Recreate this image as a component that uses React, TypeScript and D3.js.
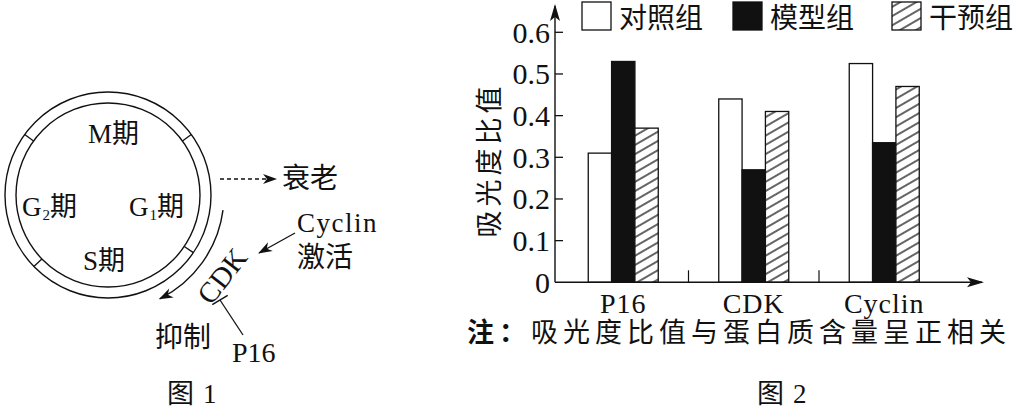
import React from 'react';
import * as d3 from 'd3';

// figure 2 data
const categories = ['P16', 'CDK', 'Cyclin'];
const seriesNames = ['对照组', '模型组', '干预组'];
const controlValues = [0.31, 0.44, 0.525];
const modelValues = [0.53, 0.27, 0.335];
const interventionValues = [0.37, 0.41, 0.47];
const yTicks = [0, 0.1, 0.2, 0.3, 0.4, 0.5, 0.6];

// figure 1 labels
const phaseLabels = [
  { main: 'M', sub: '', x: 88, y: 143 },
  { main: 'G', sub: '2', x: 22, y: 216 },
  { main: 'G', sub: '1', x: 129, y: 216 },
  { main: 'S', sub: '', x: 83, y: 270 },
];
const dividerAngles = [-36, 34, 136, 216];

const SERIF = "'Liberation Serif', 'Noto Sans CJK SC', serif";
const CJK = "'Noto Sans CJK SC', sans-serif";

const W = 1024;
const H = 411;

const CycleDiagram: React.FC = () => {
  const cx = 108;
  const cy = 195;
  const rIn = 92;
  const rOut = 103;
  const rad = (a: number) => (a * Math.PI) / 180;

  const arc = d3.path();
  arc.arc(cx, cy, 116, rad(7.5), rad(63.5));

  // inhibition "T" at the CDK arc
  const tc = { x: 220, y: 300 };
  const barDir = [Math.cos(rad(-31)), Math.sin(rad(-31))];

  return (
    <g>
      <circle cx={cx} cy={cy} r={rOut} fill="none" stroke="#111" strokeWidth={1.4} />
      <circle cx={cx} cy={cy} r={rIn} fill="none" stroke="#111" strokeWidth={1.4} />
      {dividerAngles.map((a) => (
        <line
          key={a}
          x1={cx + rIn * Math.cos(rad(a))}
          y1={cy + rIn * Math.sin(rad(a))}
          x2={cx + rOut * Math.cos(rad(a))}
          y2={cy + rOut * Math.sin(rad(a))}
          stroke="#111"
          strokeWidth={1.3}
        />
      ))}
      {phaseLabels.map((p, i) => (
        <text key={i} x={p.x} y={p.y} fontFamily={SERIF} fontSize={27} fill="#111">
          {p.main}
          {p.sub && (
            <tspan fontSize={15} dy={4} dx={1}>
              {p.sub}
            </tspan>
          )}
          <tspan fontFamily={CJK} dy={p.sub ? -4 : 0}>期</tspan>
        </text>
      ))}

      {/* senescence dashed arrow */}
      <line x1={220} y1={179} x2={276} y2={179} stroke="#111" strokeWidth={1.3}
        strokeDasharray="4 3" markerEnd="url(#arrowHead)" />
      <text x={282} y={188} fontFamily={CJK} fontSize={28} fill="#111">衰老</text>

      {/* CDK arc */}
      <path d={arc.toString()} fill="none" stroke="#111" strokeWidth={1.4} markerEnd="url(#arrowHead)" />
      <text
        transform="translate(222,276) rotate(-52)"
        textAnchor="middle"
        fontFamily={SERIF}
        fontSize={29}
        fill="#111"
        dominantBaseline="central"
      >
        CDK
      </text>

      {/* Cyclin activation */}
      <line x1={295} y1={233} x2={259} y2={253} stroke="#111" strokeWidth={1.3} markerEnd="url(#arrowHead)" />
      <text x={297} y={232} fontFamily={SERIF} fontSize={27} letterSpacing={1.5} fill="#111">Cyclin</text>
      <text x={297} y={267} fontFamily={CJK} fontSize={28} fill="#111">激活</text>

      {/* P16 inhibition */}
      <line
        x1={tc.x - 9 * barDir[0]}
        y1={tc.y - 9 * barDir[1]}
        x2={tc.x + 9 * barDir[0]}
        y2={tc.y + 9 * barDir[1]}
        stroke="#111"
        strokeWidth={1.4}
      />
      <line x1={tc.x} y1={tc.y} x2={243} y2={335} stroke="#111" strokeWidth={1.3} />
      <text x={155} y={347} fontFamily={CJK} fontSize={28} fill="#111">抑制</text>
      <text x={232} y={362} fontFamily={SERIF} fontSize={28} fill="#111">P16</text>

      <text x={167} y={403} fontFamily={CJK} fontSize={27} fill="#111">
        图<tspan fontFamily={SERIF} dx={9}>1</tspan>
      </text>
    </g>
  );
};

const BarChart: React.FC = () => {
  const y0 = 282.3;
  const y = d3.scaleLinear().domain([0, 0.6]).range([y0, 32.3]);
  const x = d3.scaleBand<string>().domain(categories).range([558, 949.5]).padding(0);
  const bw = x.bandwidth();
  const xs = d3.scaleBand<string>().domain(seriesNames).range([bw / 2 - 35, bw / 2 + 35]).padding(0);
  const axisX = 555;

  const seriesValues = [controlValues, modelValues, interventionValues];
  const fills = ['#fff', '#111', 'url(#hatch)'];

  const legendX = [582, 733, 892];

  return (
    <g>
      {/* bars */}
      {categories.map((c, ci) => (
        <g key={c} transform={`translate(${x(c)},0)`}>
          {seriesNames.map((s, si) => (
            <rect
              key={s}
              x={xs(s)}
              y={y(seriesValues[si][ci])}
              width={xs.bandwidth()}
              height={y0 - y(seriesValues[si][ci])}
              fill={fills[si]}
              stroke="#111"
              strokeWidth={1.3}
            />
          ))}
        </g>
      ))}

      {/* y axis */}
      <line x1={axisX} y1={y0} x2={axisX} y2={6} stroke="#111" strokeWidth={1.4} markerEnd="url(#axisHead)" />
      {yTicks.map((t) => (
        <g key={t}>
          {t > 0 && <line x1={axisX} x2={axisX + 8} y1={y(t)} y2={y(t)} stroke="#111" strokeWidth={1.3} />}
          <text
            x={550}
            y={y(t)}
            textAnchor="end"
            dominantBaseline="central"
            fontFamily={SERIF}
            fontSize={30}
            fill="#111"
          >
            {t === 0 ? '0' : t.toFixed(1)}
          </text>
        </g>
      ))}
      <text
        transform="translate(487,160) rotate(-90)"
        textAnchor="middle"
        dominantBaseline="central"
        fontFamily={CJK}
        fontSize={27}
        letterSpacing={4}
        fill="#111"
      >
        吸光度比值
      </text>

      {/* x axis */}
      <line x1={axisX} y1={y0} x2={982} y2={y0} stroke="#111" strokeWidth={1.4} markerEnd="url(#axisHead)" />
      {categories.slice(1).map((c) => (
        <line key={c} x1={x(c)} x2={x(c)} y1={y0} y2={y0 - 12} stroke="#111" strokeWidth={1.2} />
      ))}
      {categories.map((c) => (
        <text
          key={c}
          x={(x(c) as number) + bw / 2}
          y={313}
          textAnchor="middle"
          fontFamily={SERIF}
          fontSize={28}
          letterSpacing={1}
          fill="#111"
        >
          {c}
        </text>
      ))}

      {/* legend */}
      {seriesNames.map((s, i) => (
        <g key={s}>
          <rect x={legendX[i]} y={2} width={29} height={28} fill={fills[i]} stroke="#111" strokeWidth={1.3} />
          <text x={legendX[i] + 37} y={28} fontFamily={CJK} fontSize={28} fill="#111">{s}</text>
        </g>
      ))}

      {/* note and caption */}
      <text x={467} y={342} fontFamily={CJK} fontSize={27} letterSpacing={5} fill="#111">
        <tspan fontWeight="bold">注：</tspan>吸光度比值与蛋白质含量呈正相关
      </text>
      <text x={757} y={403} fontFamily={CJK} fontSize={27} fill="#111">
        图<tspan fontFamily={SERIF} dx={9}>2</tspan>
      </text>
    </g>
  );
};

const App: React.FC = () => {
  return (
    <svg
      width={W}
      height={H}
      viewBox={`0 0 ${W} ${H}`}
      style={{ position: 'absolute', left: 0, top: 0, background: '#fff' }}
    >
      <defs>
        <pattern id="hatch" width={8} height={8} patternUnits="userSpaceOnUse" patternTransform="rotate(-30)">
          <rect width={8} height={8} fill="#fff" />
          <line x1={0} y1={4} x2={8} y2={4} stroke="#111" strokeWidth={1.3} />
        </pattern>
        <marker id="arrowHead" viewBox="-14 -6 16 12" refX={0} refY={0} markerWidth={16} markerHeight={12}
          markerUnits="userSpaceOnUse" orient="auto">
          <path d="M1,0 L-13,-5 L-9,0 L-13,5 Z" fill="#111" />
        </marker>
        <marker id="axisHead" viewBox="-16 -6 18 12" refX={0} refY={0} markerWidth={18} markerHeight={12}
          markerUnits="userSpaceOnUse" orient="auto">
          <path d="M2,0 L-15,-5 L-11,0 L-15,5 Z" fill="#111" />
        </marker>
      </defs>
      <rect width={W} height={H} fill="#fff" />
      <CycleDiagram />
      <BarChart />
    </svg>
  );
};

export default App;
